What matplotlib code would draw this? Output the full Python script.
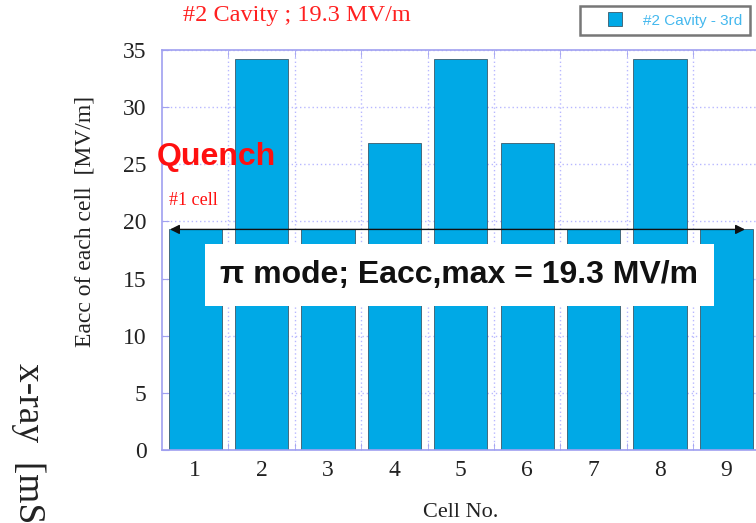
import matplotlib
matplotlib.use("Agg")
import matplotlib.pyplot as plt
from matplotlib.lines import Line2D

cells = [1, 2, 3, 4, 5, 6, 7, 8, 9]
eacc = [19.3, 34.2, 19.3, 26.9, 34.2, 26.9, 19.3, 34.2, 19.3]
yticks = [0, 5, 10, 15, 20, 25, 30, 35]
series_name = "#2 Cavity - 3rd"
title = "#2 Cavity ; 19.3 MV/m"
mode_text = "\u03c0 mode; Eacc,max = 19.3 MV/m"
eacc_max = 19.3

serif = "Liberation Serif"
sans = "Liberation Sans"
bar_color = "#00a9e6"
frame_color = "#a0a0f0"

fig = plt.figure(figsize=(7.56, 5.23), dpi=100)
ax = fig.add_axes([0.2143, 0.1396, 0.7905, 0.7648])

ax.bar(cells, eacc, width=0.8, color=bar_color, edgecolor="#3a5a6a",
       linewidth=0.6, label=series_name, zorder=2)

ax.set_xlim(0.5, 9.5)
ax.set_ylim(0, 35)
ax.set_xticks(cells)
ax.set_xticks([c + 0.5 for c in cells[:-1]], minor=True)
ax.set_yticks(yticks)
ax.tick_params(axis="x", which="major", length=0, pad=7)
ax.tick_params(axis="x", which="minor", length=5, direction="in", color=frame_color,
               top=True)
ax.tick_params(axis="y", length=5, direction="in", color=frame_color, pad=11)
for lab in ax.get_xticklabels() + ax.get_yticklabels():
    lab.set_fontfamily(serif)
    lab.set_fontsize(17)
    lab.set_color("#222222")

ax.grid(True, which="minor", axis="x", linestyle=(0, (1, 2)), color="#b8b8ff", lw=1.0, zorder=1)
ax.grid(True, which="major", axis="y", linestyle=(0, (1, 2)), color="#b8b8ff", lw=1.0, zorder=1)
for s in ax.spines.values():
    s.set_color(frame_color)
    s.set_linewidth(1.2)

fig.text(85 / 756, 1 - 221 / 523, "Eacc of each cell  [MV/m]", fontfamily=serif,
         fontsize=17, color="#222222", rotation=90, ha="center", va="center")
ax.set_xlabel("Cell No.", fontfamily=serif, fontsize=16, color="#222222", labelpad=16)

fig.text(297 / 756, 1 - 15 / 523, title, fontfamily=serif, fontsize=17.5, color="#ff2020",
         ha="center", va="center")

# arrow at Eacc,max
ax.annotate("", xy=(0.62, eacc_max), xytext=(9.28, eacc_max),
            arrowprops=dict(arrowstyle="<|-|>", color="#111111", lw=1.0,
                            mutation_scale=14, shrinkA=0, shrinkB=0), zorder=4)

ax.text(0.42, 25.6, "Quench", fontfamily=sans, fontweight="bold", fontsize=23,
        color="#ff1010", ha="left", va="center", zorder=5)
ax.text(0.61, 21.8, "#1 cell", fontfamily=serif, fontsize=13, color="#ff1010",
        ha="left", va="center", zorder=5)

ax.text(4.98, 15.3, mode_text, fontfamily=sans, fontweight="bold", fontsize=23,
        color="#111111", ha="center", va="center", zorder=6,
        bbox=dict(boxstyle="square,pad=0.5", facecolor="white", edgecolor="none"))

handle = Line2D([], [], marker="s", linestyle="none", markersize=10.5,
                markerfacecolor=bar_color, markeredgecolor="#3a5a6a", markeredgewidth=0.6)
leg = ax.legend([handle], [series_name], loc="upper left",
                bbox_to_anchor=(580 / 756, 1 - 6 / 523),
                bbox_transform=fig.transFigure, frameon=True, fancybox=False,
                prop={"family": sans, "size": 11}, handlelength=3.6,
                borderpad=0.5, handletextpad=0.0, borderaxespad=0)
leg.get_frame().set_edgecolor("#555555")
leg.get_frame().set_linewidth(1.8)
for t in leg.get_texts():
    t.set_color("#44b8ee")

fig.text(28 / 756, 1 - 363 / 523, "x-ray  [mS", fontfamily=serif, fontsize=27,
         color="#222222", rotation=-90, ha="center", va="top")

fig.savefig("out.png", dpi=100)
